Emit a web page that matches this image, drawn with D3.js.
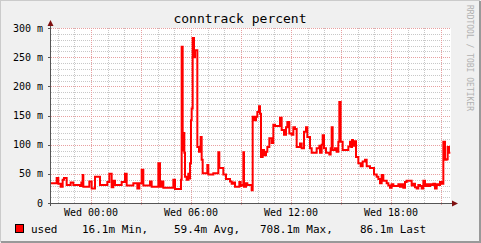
<!DOCTYPE html>
<html>
<head>
<meta charset="utf-8">
<script src="https://d3js.org/d3.v7.min.js"></script>
<style>
  body { margin: 0; background: #f0f0f0; }
  text { font-family: "DejaVu Sans Mono", monospace; }
</style>
</head>
<body>
<script>
// hours relative to Wed 00:00, and "used" in milli-units
var hours = [-2.42,-2.06,-1.96,-1.82,-1.70,-1.62,-1.46,-1.22,-1.06,-0.66,-0.58,-0.50,-0.46,-0.10,0.04,0.24,0.54,0.98,1.10,1.24,
  1.34,1.44,1.84,2.04,2.14,2.54,2.78,2.90,3.04,3.14,3.54,3.64,4.04,4.14,4.24,4.34,4.94,5.04,5.40,5.44,
  5.50,5.54,5.60,5.64,5.74,5.84,5.90,5.94,6.00,6.04,6.10,6.18,6.24,6.38,6.48,6.58,6.64,6.70,6.98,7.04,
  7.34,7.64,7.70,7.94,8.10,8.34,8.44,8.54,8.64,8.90,8.98,9.04,9.14,9.18,9.30,9.38,9.64,9.70,9.78,9.90,
  9.98,10.08,10.14,10.20,10.30,10.38,10.50,10.58,10.70,10.84,10.94,11.04,11.34,11.44,11.58,11.70,11.78,11.90,12.04,12.14,
  12.24,12.34,12.54,12.64,12.78,12.90,12.98,13.14,13.24,13.54,13.70,13.74,13.84,13.90,13.98,14.10,14.30,14.38,14.44,14.50,
  14.64,14.74,14.84,14.90,14.98,15.10,15.44,15.54,15.62,15.66,15.72,15.80,15.90,16.04,16.18,16.30,16.44,16.54,16.74,16.98,
  17.14,17.24,17.34,17.44,17.54,17.74,17.84,17.94,18.04,18.14,18.44,18.54,18.64,18.74,18.84,18.94,19.24,19.34,19.44,19.54,
  19.64,19.74,19.84,19.94,20.04,20.14,20.24,20.34,20.44,20.54,20.64,20.74,20.84,20.94,21.04,21.14,21.24,21.34,21.40,21.48,21.56];
var used = [34,43,33,28,40,43,31,35,31,29,35,48,28,37,25,45,31,36,50,27,
  38,31,36,50,30,34,25,34,57,30,37,28,68,28,37,26,40,24,40,268,
  90,120,86,45,40,50,42,68,142,162,283,250,262,96,88,113,74,51,65,49,
  51,87,60,49,41,37,33,35,28,36,29,31,87,28,34,31,22,148,142,148,
  156,166,153,79,91,82,88,96,111,103,134,132,146,125,117,130,139,119,117,130,
  127,96,102,94,122,130,113,94,86,94,98,86,100,116,94,86,83,94,130,91,
  94,88,105,173,105,91,97,105,96,108,98,106,79,68,63,71,74,63,60,49,
  45,41,34,48,38,34,30,26,32,29,32,28,32,26,36,38,30,33,27,25,
  31,29,25,38,29,32,29,32,31,33,25,32,31,36,33,105,74,75,96,86,86];

var yTicks = [0, 50, 100, 150, 200, 250, 300];
var yTickLabels = ["0", "50 m", "100 m", "150 m", "200 m", "250 m", "300 m"];
var xTicks = [0, 6, 12, 18];
var xTickLabels = ["Wed 00:00", "Wed 06:00", "Wed 12:00", "Wed 18:00"];
var legendName = "used";
var legendStats = ["16.1m Min,", "59.4m Avg,", "708.1m Max,", "86.1m Last"];

var W = 481, H = 243;
var svg = d3.select("body").append("svg").attr("width", W).attr("height", H);

// frame
svg.append("rect").attr("width", W).attr("height", H).attr("fill", "#f0f0f0");
svg.append("path").attr("d", "M0,242 L0,0 L480,0").attr("fill", "none").attr("stroke", "#cbcbcb").attr("stroke-width", 2);
svg.append("path").attr("d", "M1,242 L480,242 L480,1").attr("fill", "none").attr("stroke", "#999999").attr("stroke-width", 2);

var x = d3.scaleLinear().domain([-2.4, 21.6]).range([51, 451]);
var y = d3.scaleLinear().domain([0, 300]).range([203, 28]);

svg.append("rect").attr("x", 51).attr("y", 28).attr("width", 400).attr("height", 175).attr("fill", "#fff");

// grid
var minorY = d3.range(10, 301, 10).filter(function(d) { return d % 50 != 0; });
svg.selectAll(".gy").data(minorY).enter().append("line")
  .attr("x1", 51).attr("x2", 451)
  .attr("y1", function(d) { return Math.round(y(d)) + 0.5; })
  .attr("y2", function(d) { return Math.round(y(d)) + 0.5; })
  .attr("stroke", "#c8c8c8").attr("stroke-dasharray", "1,1");
var minorX = d3.range(-2, 22, 1).filter(function(d) { return d % 3 != 0; });
svg.selectAll(".gx").data(minorX).enter().append("line")
  .attr("y1", 28).attr("y2", 203)
  .attr("x1", function(d) { return Math.round(x(d)) + 0.5; })
  .attr("x2", function(d) { return Math.round(x(d)) + 0.5; })
  .attr("stroke", "#c8c8c8").attr("stroke-dasharray", "1,1");
svg.selectAll(".my").data(yTicks.slice(1)).enter().append("line")
  .attr("x1", 51).attr("x2", 451)
  .attr("y1", function(d) { return Math.round(y(d)) + 0.5; })
  .attr("y2", function(d) { return Math.round(y(d)) + 0.5; })
  .attr("stroke", "#e8a0a0").attr("stroke-dasharray", "1,1");
svg.selectAll(".mx").data(d3.range(0, 22, 3)).enter().append("line")
  .attr("y1", 28).attr("y2", 206)
  .attr("x1", function(d) { return Math.round(x(d)) + 0.5; })
  .attr("x2", function(d) { return Math.round(x(d)) + 0.5; })
  .attr("stroke", "#e8a0a0").attr("stroke-dasharray", "1,1");

// data line
var pts = hours.map(function(h, i) { return [h, used[i]]; });
var line = d3.line().x(function(d) { return x(d[0]); }).y(function(d) { return y(d[1]); }).curve(d3.curveStepAfter);
svg.append("path").datum(pts).attr("d", line)
  .attr("fill", "none").attr("stroke", "#ff0000").attr("stroke-width", 2);

// axes
svg.append("line").attr("x1", 48).attr("x2", 454).attr("y1", 203.5).attr("y2", 203.5).attr("stroke", "#555");
svg.append("line").attr("x1", 50.5).attr("x2", 50.5).attr("y1", 206).attr("y2", 25).attr("stroke", "#555");
svg.append("path").attr("d", "M47.5,26 L50.5,20 L53.5,26 Z").attr("fill", "#7f1010");
svg.append("path").attr("d", "M452,200.5 L458,203.5 L452,206.5 Z").attr("fill", "#7f1010");
svg.selectAll(".yt").data(yTicks).enter().append("line")
  .attr("x1", 48).attr("x2", 51)
  .attr("y1", function(d) { return Math.round(y(d)) + 0.5; })
  .attr("y2", function(d) { return Math.round(y(d)) + 0.5; })
  .attr("stroke", "#555");

// labels
svg.selectAll(".yl").data(yTicks).enter().append("text")
  .attr("x", 43).attr("y", function(d) { return y(d) + 3.5; })
  .attr("text-anchor", "end").attr("font-size", 10).attr("fill", "#000")
  .text(function(d, i) { return yTickLabels[i]; });
svg.selectAll(".xl").data(xTicks).enter().append("text")
  .attr("x", function(d) { return x(d); }).attr("y", 216)
  .attr("text-anchor", "middle").attr("font-size", 10).attr("fill", "#000")
  .text(function(d, i) { return xTickLabels[i]; });

svg.append("text").attr("x", 240).attr("y", 23).attr("text-anchor", "middle")
  .attr("font-size", 13).attr("fill", "#000").text("conntrack percent");

svg.append("text").attr("transform", "translate(467,5) rotate(90)")
  .attr("font-size", 8).attr("fill", "#b0b0b0").text("RRDTOOL / TOBI OETIKER");

// legend
svg.append("rect").attr("x", 15.5).attr("y", 224.5).attr("width", 8).attr("height", 8)
  .attr("fill", "#ff0000").attr("stroke", "#000");
var legendX = [31, 82, 174, 260, 360];
svg.selectAll(".lg").data([legendName].concat(legendStats)).enter().append("text")
  .attr("x", function(d, i) { return legendX[i]; }).attr("y", 232.5)
  .attr("font-size", 11).attr("fill", "#000")
  .text(function(d) { return d; });
</script>
</body>
</html>
